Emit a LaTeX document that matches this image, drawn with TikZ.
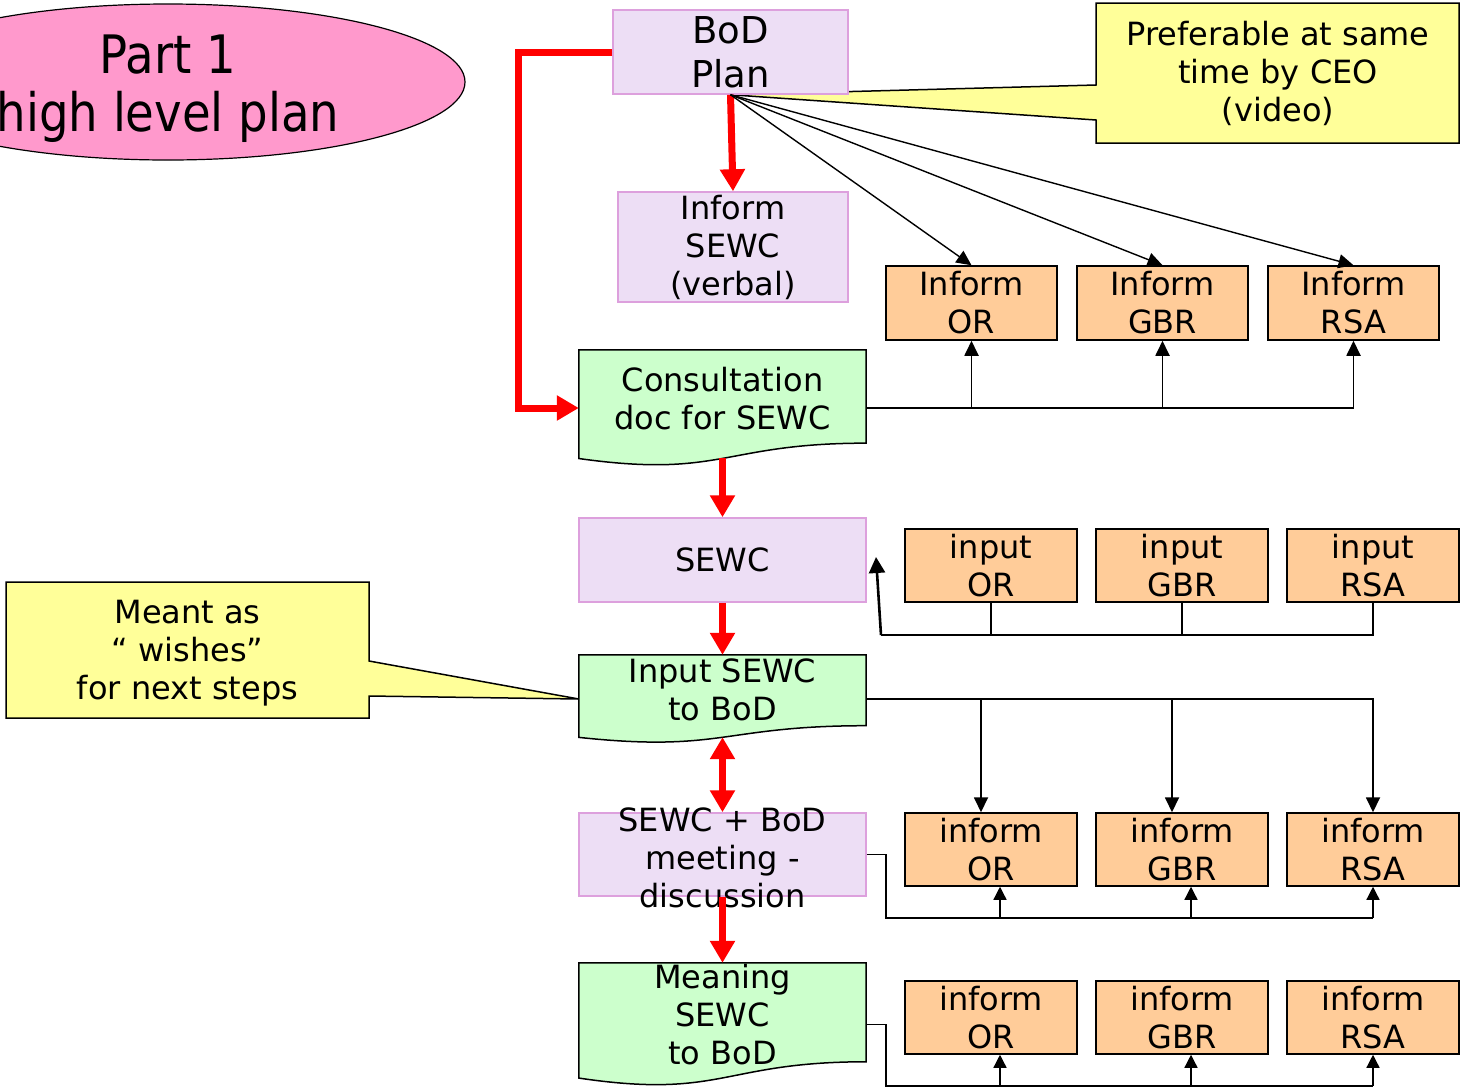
\documentclass[tikz,border=0pt]{standalone}
\usepackage{fontspec}
\setmainfont{DejaVu Sans}
\newfontfamily\titlefont{DejaVu Sans}[FakeStretch=0.88]
\usetikzlibrary{arrows.meta,calc,backgrounds}

\definecolor{lavfill}{RGB}{237,222,245}
\definecolor{lavline}{RGB}{221,160,221}
\definecolor{mint}{RGB}{204,255,204}
\definecolor{peach}{RGB}{255,204,153}
\definecolor{lemon}{RGB}{255,255,153}
\definecolor{rose}{RGB}{255,153,204}

\newcommand{\bodyfont}{\fontsize{32}{38}\selectfont}
% wavy-bottom document outline behind a node
\newcommand{\docoutline}[1]{%
\begin{pgfonlayer}{background}
\filldraw[docline] (#1.north west) -- (#1.north east)
  -- ($(#1.north east)!0.802!(#1.south east)$)
  .. controls ($(#1.north)!0.802!(#1.south)$) and ($(#1.north)!1.1075!(#1.south)$)
  .. ($(#1.north west)!0.934!(#1.south west)$) -- cycle;
\end{pgfonlayer}}

\begin{document}
\begin{tikzpicture}[x=1pt,y=-1pt]
\tikzstyle{lavbox}=[draw=lavline, fill=lavfill, line width=1.5pt, inner sep=0pt, align=center, font=\bodyfont]
\tikzstyle{orbox}=[draw, fill=peach, line width=1.5pt, minimum width=172pt, minimum height=74pt, inner sep=0pt, align=center, font=\bodyfont]
\tikzstyle{docbox}=[minimum width=287pt, inner sep=0pt, align=center, font=\bodyfont]
\tikzstyle{docline}=[draw, fill=mint, line width=1.5pt]
\tikzstyle{notetxt}=[inner sep=0pt, align=center, font=\bodyfont]
\tikzstyle{noteline}=[draw, fill=lemon, line width=1.5pt]
\tikzstyle{redarr}=[draw=red, line width=7pt, -{Triangle[length=22pt,width=24pt]}]
\tikzstyle{blk}=[line width=1.8pt, -{Triangle[length=15pt,width=14pt]}]
\tikzstyle{blkline}=[line width=1.8pt]
\tikzstyle{thinl}=[line width=1.3pt]
\tikzstyle{thinarr}=[line width=1.3pt, -{Triangle[length=13pt,width=13pt]}]

\useasboundingbox (0,0) rectangle (1460,1088);

% title
\filldraw[fill=rose, line width=1.2pt] (168,82) ellipse [x radius=297pt, y radius=78pt];
\node[inner sep=0pt, align=center, font=\titlefont\fontsize{53}{58}\selectfont] (part) at (168,89) {Part 1\\high level plan};

% main column
\node[lavbox, minimum width=235pt, minimum height=84pt, font=\fontsize{37}{44}\selectfont] (bod) at (730.5,52) {BoD\\Plan};
\node[lavbox, minimum width=230pt, minimum height=110pt] (verbal) at (733,247) {Inform\\SEWC\\(verbal)};
\node[docbox, minimum height=116pt, text depth=20pt] (cons) at (722.5,408) {Consultation\\doc for SEWC};
\node[lavbox, minimum width=287pt, minimum height=84pt] (sewc) at (722.5,560) {SEWC};
\node[docbox, minimum height=88pt, text depth=18pt] (inp) at (722.5,699) {Input SEWC\\to BoD};
\node[lavbox, minimum width=287pt, minimum height=83pt] (meet) at (722.5,854.5) {};
\node[notetxt] (meettxt) at (722.5,858) {SEWC + BoD\\meeting -\\discussion};
\node[docbox, minimum height=123pt, text depth=21pt] (mean) at (722.5,1024.5) {Meaning\\SEWC\\to BoD};
\docoutline{cons}
\docoutline{inp}
\docoutline{mean}

% side boxes
\node[orbox, minimum width=171pt] (iOR) at (971.5,303) {Inform\\OR};
\node[orbox, minimum width=171pt] (iGBR) at (1162.5,303) {Inform\\GBR};
\node[orbox, minimum width=171pt] (iRSA) at (1353.5,303) {Inform\\RSA};
\node[orbox, minimum height=73pt] (nOR) at (991,565.5) {input\\OR};
\node[orbox, minimum height=73pt] (nGBR) at (1182,565.5) {input\\GBR};
\node[orbox, minimum height=73pt] (nRSA) at (1373,565.5) {input\\RSA};
\node[orbox, minimum height=73pt] (fOR) at (991,849.5) {inform\\OR};
\node[orbox, minimum height=73pt] (fGBR) at (1182,849.5) {inform\\GBR};
\node[orbox, minimum height=73pt] (fRSA) at (1373,849.5) {inform\\RSA};
\node[orbox, minimum height=73pt] (gOR) at (991,1017.5) {inform\\OR};
\node[orbox, minimum height=73pt] (gGBR) at (1182,1017.5) {inform\\GBR};
\node[orbox, minimum height=73pt] (gRSA) at (1373,1017.5) {inform\\RSA};

% notes
\node[notetxt] (ceo) at (1278,73.5) {Preferable at same\\time by CEO\\(video)};
\node[notetxt] (wish) at (187.5,653) {Meant as\\“ wishes”\\for next steps};
\begin{pgfonlayer}{background}
\filldraw[noteline] (1096,3) -- (1459,3) -- (1459,143) -- (1096,143) -- (1096,120) -- (bod.south) -- (1096,85) -- cycle;
\filldraw[noteline] (6,582) -- (369,582) -- (369,661) -- (inp.west) -- (369,696) -- (369,718) -- (6,718) -- cycle;
\end{pgfonlayer}

% red flow
\draw[redarr] (bod.south) -- (verbal.north);
\draw[redarr] (bod.west) -- ++(-94,0) |- (cons.west);
\draw[redarr] ([yshift=8pt]cons.south) -- (sewc.north);
\draw[redarr] (sewc.south) -- (inp.north);
\draw[redarr, {Triangle[length=22pt,width=24pt]}-{Triangle[length=22pt,width=24pt]}] ([yshift=6pt]inp.south) -- (meet.north);
\draw[redarr] (meet.south) -- (mean.north);

% informing
\draw[blk, line width=1.4pt] (bod.south) -- (iOR.north);
\draw[blk, line width=1.4pt] (bod.south) -- (iGBR.north);
\draw[blk, line width=1.4pt] (bod.south) -- (iRSA.north);
\draw[blk] (cons.east) -| (iRSA.south);
\draw[blk] (iOR.south |- cons.east) -- (iOR.south);
\draw[blk] (iGBR.south |- cons.east) -- (iGBR.south);

% input back to SEWC
\coordinate (jS) at (881,635);
\coordinate (tS) at (876,557);
\draw[blkline] (nRSA.south) |- (jS);
\draw[blkline] (nOR.south) -- (nOR.south |- jS);
\draw[blkline] (nGBR.south) -- (nGBR.south |- jS);
\draw[blk, line width=2.6pt, -{Triangle[length=16pt,width=16pt]}] (jS) -- (tS);

\draw[blk] (inp.east) -| (fRSA.north);
\draw[blk] ([xshift=-10pt]fOR.north |- inp.east) -- ([xshift=-10pt]fOR.north);
\draw[blk] ([xshift=-10pt]fGBR.north |- inp.east) -- ([xshift=-10pt]fGBR.north);

\coordinate (jM) at (886,918);
\draw[thinl] (meet.east) -| (jM) -- (fRSA.south |- jM);
\draw[thinarr] ([xshift=9pt]fOR.south |- jM) -- ([xshift=9pt]fOR.south);
\draw[thinarr] ([xshift=9pt]fGBR.south |- jM) -- ([xshift=9pt]fGBR.south);
\draw[thinarr] (fRSA.south |- jM) -- (fRSA.south);

\coordinate (jN) at (886,1086);
\draw[thinl] (mean.east) -| (jN) -- (gRSA.south |- jN);
\draw[thinarr] ([xshift=9pt]gOR.south |- jN) -- ([xshift=9pt]gOR.south);
\draw[thinarr] ([xshift=9pt]gGBR.south |- jN) -- ([xshift=9pt]gGBR.south);
\draw[thinarr] (gRSA.south |- jN) -- (gRSA.south);
\end{tikzpicture}
\end{document}
